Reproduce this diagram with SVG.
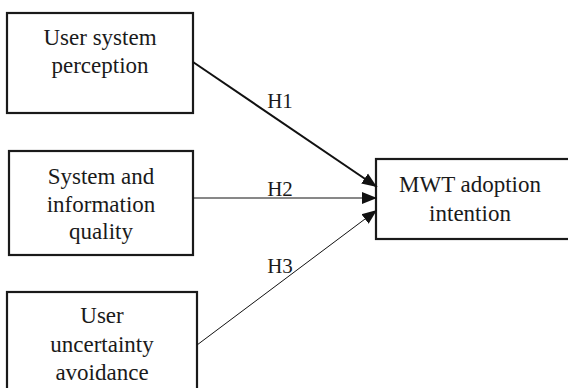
<svg xmlns="http://www.w3.org/2000/svg" width="568" height="388" viewBox="0 0 568 388">
<style>
.box{fill:#fff;stroke:#1a1a1a;stroke-width:2.2}
.t{font-family:"Liberation Serif","Times New Roman",serif;font-size:23px;fill:#1a1a1a;text-anchor:middle}
.l{font-family:"Liberation Serif","Times New Roman",serif;font-size:21px;fill:#1a1a1a;text-anchor:middle}
.c{stroke:#111;fill:none}
</style>
<defs>
<marker id="ah" markerUnits="userSpaceOnUse" markerWidth="16" markerHeight="14" refX="15" refY="6" orient="auto" viewBox="0 0 16 12">
<path d="M0,0 L15,6 L0,12 Z" fill="#111"/>
</marker>
</defs>
<rect width="568" height="388" fill="#fff"/>
<g id="n1">
<rect class="box" x="7" y="13" width="186" height="100"/>
<text class="t" x="100" y="45">User system</text>
<text class="t" x="100" y="73">perception</text>
</g>
<g id="n2">
<rect class="box" x="9" y="151" width="184" height="104"/>
<text class="t" x="101" y="184">System and</text>
<text class="t" x="101" y="212">information</text>
<text class="t" x="101" y="239">quality</text>
</g>
<g id="n3">
<rect class="box" x="7" y="292" width="190" height="110"/>
<text class="t" x="102" y="323">User</text>
<text class="t" x="102" y="352">uncertainty</text>
<text class="t" x="102" y="380">avoidance</text>
</g>
<g id="n4">
<rect class="box" x="376" y="159" width="200" height="80"/>
<text class="t" x="470" y="192">MWT adoption</text>
<text class="t" x="470" y="221">intention</text>
</g>
<g id="connectors">
<line class="c" x1="193" y1="62" x2="377" y2="187" stroke-width="2" marker-end="url(#ah)"/>
<line class="c" x1="193" y1="198" x2="377" y2="198" stroke-width="1" marker-end="url(#ah)"/>
<line class="c" x1="197" y1="345" x2="377" y2="210" stroke-width="1" marker-end="url(#ah)"/>
<text class="l" x="280" y="108">H1</text>
<text class="l" x="280" y="196">H2</text>
<text class="l" x="280" y="273">H3</text>
</g>
</svg>
